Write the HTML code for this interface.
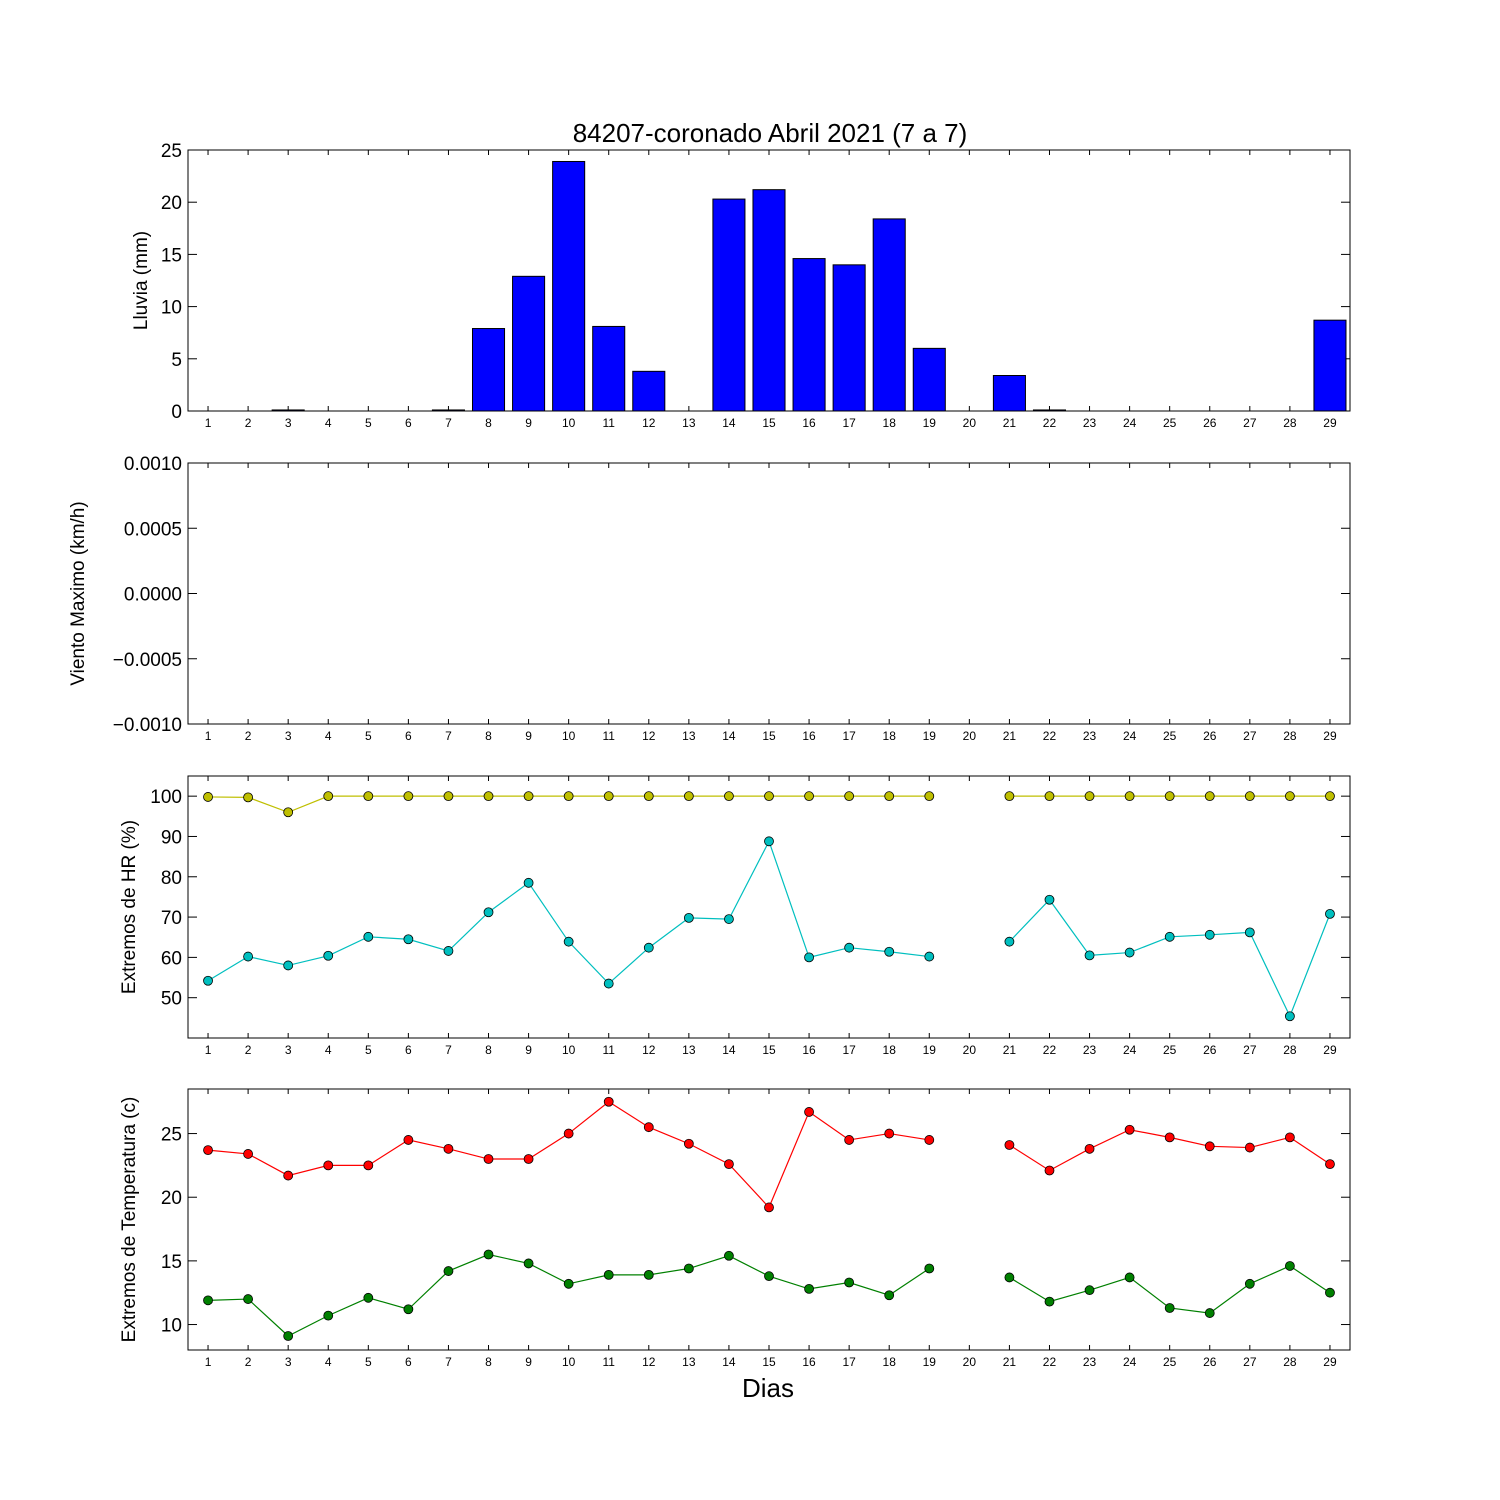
<!DOCTYPE html>
<html><head><meta charset="utf-8"><style>
body{margin:0;background:#fff}
svg{display:block;font-family:"Liberation Sans","DejaVu Sans",sans-serif}
</style></head><body>
<svg id="c" width="1500" height="1500" viewBox="0 0 1500 1500">
<rect width="1500" height="1500" fill="#fff"/>
<text x="770" y="142" font-size="26" text-anchor="middle">84207-coronado Abril 2021  (7 a 7)</text>
<text x="768" y="1397" font-size="26" text-anchor="middle">Dias</text>
</svg>
<script>
const days=[1,2,3,4,5,6,7,8,9,10,11,12,13,14,15,16,17,18,19,20,21,22,23,24,25,26,27,28,29];
const rain=[0,0,0.1,0,0,0,0.1,7.9,12.9,23.9,8.1,3.8,0,20.3,21.2,14.6,14,18.4,6,0,3.4,0.1,0,0,0,0,0,0,8.7];
const hrMax=[99.8,99.7,96,100,100,100,100,100,100,100,100,100,100,100,100,100,100,100,100,null,100,100,100,100,100,100,100,100,100];
const hrMin=[54.2,60.2,58,60.4,65.1,64.5,61.6,71.2,78.5,63.9,53.5,62.4,69.8,69.5,88.8,60,62.4,61.4,60.2,null,63.9,74.3,60.5,61.2,65.1,65.6,66.2,45.4,70.8];
const tMax=[23.7,23.4,21.7,22.5,22.5,24.5,23.8,23,23,25,27.5,25.5,24.2,22.6,19.2,26.7,24.5,25,24.5,null,24.1,22.1,23.8,25.3,24.7,24,23.9,24.7,22.6];
const tMin=[11.9,12,9.1,10.7,12.1,11.2,14.2,15.5,14.8,13.2,13.9,13.9,14.4,15.4,13.8,12.8,13.3,12.3,14.4,null,13.7,11.8,12.7,13.7,11.3,10.9,13.2,14.6,12.5];
const rainTicks=["0","5","10","15","20","25"];
const windTicks=["\u22120.0010","\u22120.0005","0.0000","0.0005","0.0010"];
const hrTicks=["50","60","70","80","90","100"];
const tTicks=["10","15","20","25"];

const svg=document.getElementById('c');const NS="http://www.w3.org/2000/svg";
function mk(t,a,p){const e=document.createElementNS(NS,t);for(const k in a)e.setAttribute(k,a[k]);(p||svg).appendChild(e);return e;}
const L=188,R=1350;
const xs=d=>L+(d-0.5)*(R-L)/29;
function panel(top,bot,lo,hi,ticks,label,name){
  const g=mk('g',{});
  
  
  const ys=v=>bot-(v-lo)/(hi-lo)*(bot-top);
  days.forEach(d=>{
    const x=xs(d);
    mk('line',{x1:x,x2:x,y1:bot,y2:bot-5,stroke:'#000'},g);
    mk('line',{x1:x,x2:x,y1:top,y2:top+5,stroke:'#000'},g);
    const t=mk('text',{x:x,y:bot+16,'font-size':12,'text-anchor':'middle'},g);t.textContent=d;
    
    
  });
  ticks.forEach(s=>{
    const v=parseFloat(s.replace('\u2212','-'));const y=ys(v);
    mk('line',{x1:L,x2:L+9,y1:y,y2:y,stroke:'#000'},g);
    mk('line',{x1:R,x2:R-9,y1:y,y2:y,stroke:'#000'},g);
    const t=mk('text',{x:L-6,y:y+7,'font-size':19,'text-anchor':'end'},g);t.textContent=s;
    
    
  });
  const yl=mk('text',{x:0,y:0,'font-size':19,'text-anchor':'middle',transform:`translate(${L-(name==='wind'?104:name==='rain'?41:53)},${(top+bot)/2}) rotate(-90)`},g);
  yl.textContent=label;
  
  
  return {g,ys,top,bot};
}
function frame(p){mk('rect',{x:L,y:p.top,width:R-L,height:p.bot-p.top,fill:'none',stroke:'#000','stroke-width':1},p.g);}
function series(p,vals,color,name){
  let seg=[];const segs=[];
  vals.forEach((v,i)=>{if(v==null){if(seg.length)segs.push(seg);seg=[];}else seg.push([xs(days[i]),p.ys(v)]);});
  if(seg.length)segs.push(seg);
  segs.forEach(s=>{const l=mk('polyline',{points:s.map(q=>q.join(',')).join(' '),fill:'none',stroke:color,'stroke-width':1.2},p.g);
    });
  vals.forEach((v,i)=>{if(v==null)return;const c=mk('circle',{cx:xs(days[i]),cy:p.ys(v),r:4.5,fill:color,stroke:'#000','stroke-width':0.8},p.g);
    });
}
const p1=panel(150,411,0,25,rainTicks,'Lluvia (mm)','rain');
const bw=0.8*(R-L)/29;
rain.forEach((v,i)=>{const y=p1.ys(v);const b=mk('rect',{x:xs(days[i])-bw/2,y:y,width:bw,height:p1.bot-y,fill:'#0000ff',stroke:'#000','stroke-width':1},p1.g);
  });
frame(p1);
const p2=panel(463,724,-0.001,0.001,windTicks,'Viento Maximo (km/h)','wind');frame(p2);
const p3=panel(776,1038,40,105,hrTicks,'Extremos de HR (%)','hr');
series(p3,hrMax,'#bfbf00','hr-max');series(p3,hrMin,'#00bfbf','hr-min');frame(p3);
const p4=panel(1089,1350,8,28.5,tTicks,'Extremos de Temperatura (c)','temp');
series(p4,tMax,'#ff0000','temp-max');series(p4,tMin,'#008000','temp-min');frame(p4);
</script>
</body></html>
